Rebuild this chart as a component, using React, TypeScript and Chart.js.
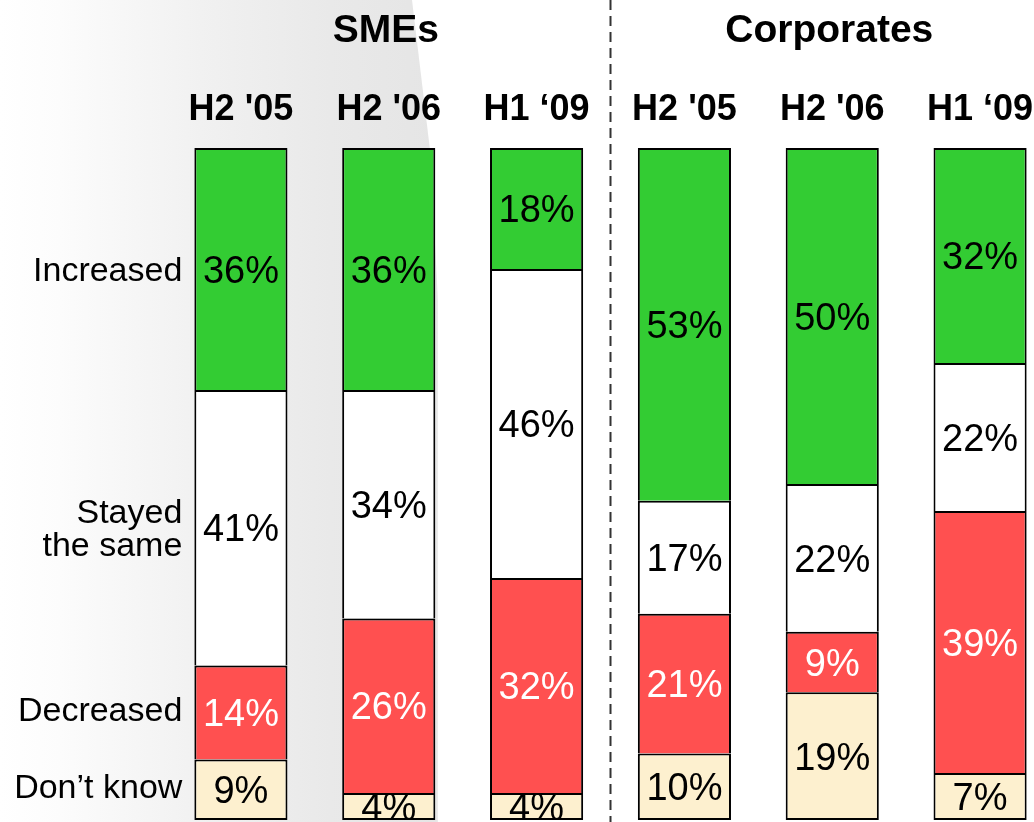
import React, { useEffect, useRef } from "react";
import { Chart, registerables } from "chart.js";

Chart.register(...registerables);

const categories = ["H2 '05", "H2 '06", "H1 \u201809", "H2 '05", "H2 '06", "H1 \u201809"];
const groupTitles = ["SMEs", "Corporates"];
const groupCenterIndex = [1, 4];
const dividerAfterIndex = 2;

const increased = [36, 36, 18, 53, 50, 32];
const stayedSame = [41, 34, 46, 17, 22, 22];
const decreased = [14, 26, 32, 21, 9, 39];
const dontKnow = [9, 4, 4, 10, 19, 7];

const rowLabelIncreased = ["Increased"];
const rowLabelSame = ["Stayed", "the same"];
const rowLabelDecreased = ["Decreased"];
const rowLabelDontKnow = ["Don\u2019t know"];

const FONT = "'Liberation Sans', Arial, sans-serif";

export default function App() {
  const ref = useRef<HTMLCanvasElement | null>(null);

  useEffect(() => {
    if (!ref.current) return;
    const totals = categories.map(
      (_, i) => increased[i] + stayedSame[i] + decreased[i] + dontKnow[i]
    );
    const norm = (arr: number[]) => arr.map((v, i) => (v / totals[i]) * 100);

    const series = [
      { raw: dontKnow, label: rowLabelDontKnow, bg: "#FDF0CF", text: "#000000", skip: false as any, nudge: -4 },
      { raw: decreased, label: rowLabelDecreased, bg: "#FF5050", text: "#FFFFFF", skip: "start" as any, nudge: -4 },
      { raw: stayedSame, label: rowLabelSame, bg: "#FFFFFF", text: "#000000", skip: "start" as any, nudge: 0 },
      { raw: increased, label: rowLabelIncreased, bg: "#33CC33", text: "#000000", skip: "start" as any, nudge: 0 },
    ];

    const labelPlugin = {
      id: "labels",
      afterDatasetsDraw(chart: any) {
        const ctx = chart.ctx;
        const xs = chart.scales.x;
        ctx.save();
        series.forEach((s, di) => {
          const meta = chart.getDatasetMeta(di);
          meta.data.forEach((el: any, i: number) => {
            const cy = (el.y + el.base) / 2;
            ctx.font = `38px ${FONT}`;
            ctx.fillStyle = s.text;
            ctx.textAlign = "center";
            ctx.textBaseline = "alphabetic";
            ctx.fillText(`${s.raw[i]}%`, el.x, cy + 38 * 0.358);
          });
          const first: any = meta.data[0];
          const cy = (first.y + first.base) / 2 + s.nudge;
          const rx = first.x - first.width / 2 - 12;
          ctx.font = `34px ${FONT}`;
          ctx.fillStyle = "#000000";
          ctx.textAlign = "right";
          const lines = s.label;
          const lh = 33;
          lines.forEach((line: string, li: number) => {
            const off = (li - (lines.length - 1) / 2) * lh;
            ctx.fillText(line, rx, cy + off + 34 * 0.358);
          });
        });
        ctx.font = `bold 36px ${FONT}`;
        ctx.fillStyle = "#000000";
        ctx.textAlign = "center";
        categories.forEach((c, i) => {
          ctx.fillText(c, xs.getPixelForValue(i), 120);
        });
        ctx.font = `bold 39px ${FONT}`;
        groupTitles.forEach((g, gi) => {
          ctx.fillText(g, xs.getPixelForValue(groupCenterIndex[gi]) - 3, 42);
        });
        const dx =
          (xs.getPixelForValue(dividerAfterIndex) + xs.getPixelForValue(dividerAfterIndex + 1)) / 2;
        ctx.strokeStyle = "#333333";
        ctx.lineWidth = 2;
        ctx.setLineDash([10, 6]);
        ctx.beginPath();
        ctx.moveTo(dx, 0);
        ctx.lineTo(dx, chart.height);
        ctx.stroke();
        ctx.restore();
      },
    };

    const chart = new Chart(ref.current, {
      type: "bar",
      data: {
        labels: categories,
        datasets: series.map((s) => ({
          label: s.label.join(" "),
          data: norm(s.raw),
          backgroundColor: s.bg,
          borderColor: "#000000",
          borderWidth: 2,
          borderSkipped: s.skip,
          inflateAmount: 0,
          barPercentage: 0.63,
          categoryPercentage: 1,
        })),
      },
      options: {
        animation: false,
        responsive: false,
        devicePixelRatio: 1,
        layout: { padding: { left: 167, right: 46, top: 148, bottom: 10 } },
        plugins: { legend: { display: false }, tooltip: { enabled: false } },
        scales: {
          x: { stacked: true, display: false },
          y: { stacked: true, display: false, min: 0, max: 100 },
        },
      },
      plugins: [labelPlugin],
    });
    return () => chart.destroy();
  }, []);

  return (
    <div
      style={{
        position: "fixed",
        left: 0,
        top: 0,
        width: 1034,
        height: 822,
        overflow: "hidden",
        background: "#ffffff",
      }}
    >
      <div
        style={{
          position: "absolute",
          left: 0,
          top: 0,
          width: 440,
          height: 822,
          background:
            "linear-gradient(90deg, #ffffff 0px, #fcfcfc 60px, #f1f1f1 200px, #e9e9e9 330px, #e5e5e5 436px, #f4f4f4 440px)",
          clipPath: "polygon(0 0, 412px 0, 430px 150px, 438px 300px, 438px 822px, 0 822px)",
        }}
      />
      <canvas
        ref={ref}
        width={1100}
        height={830}
        style={{ position: "absolute", left: 0, top: 0, width: 1100, height: 830 }}
      />
    </div>
  );
}
